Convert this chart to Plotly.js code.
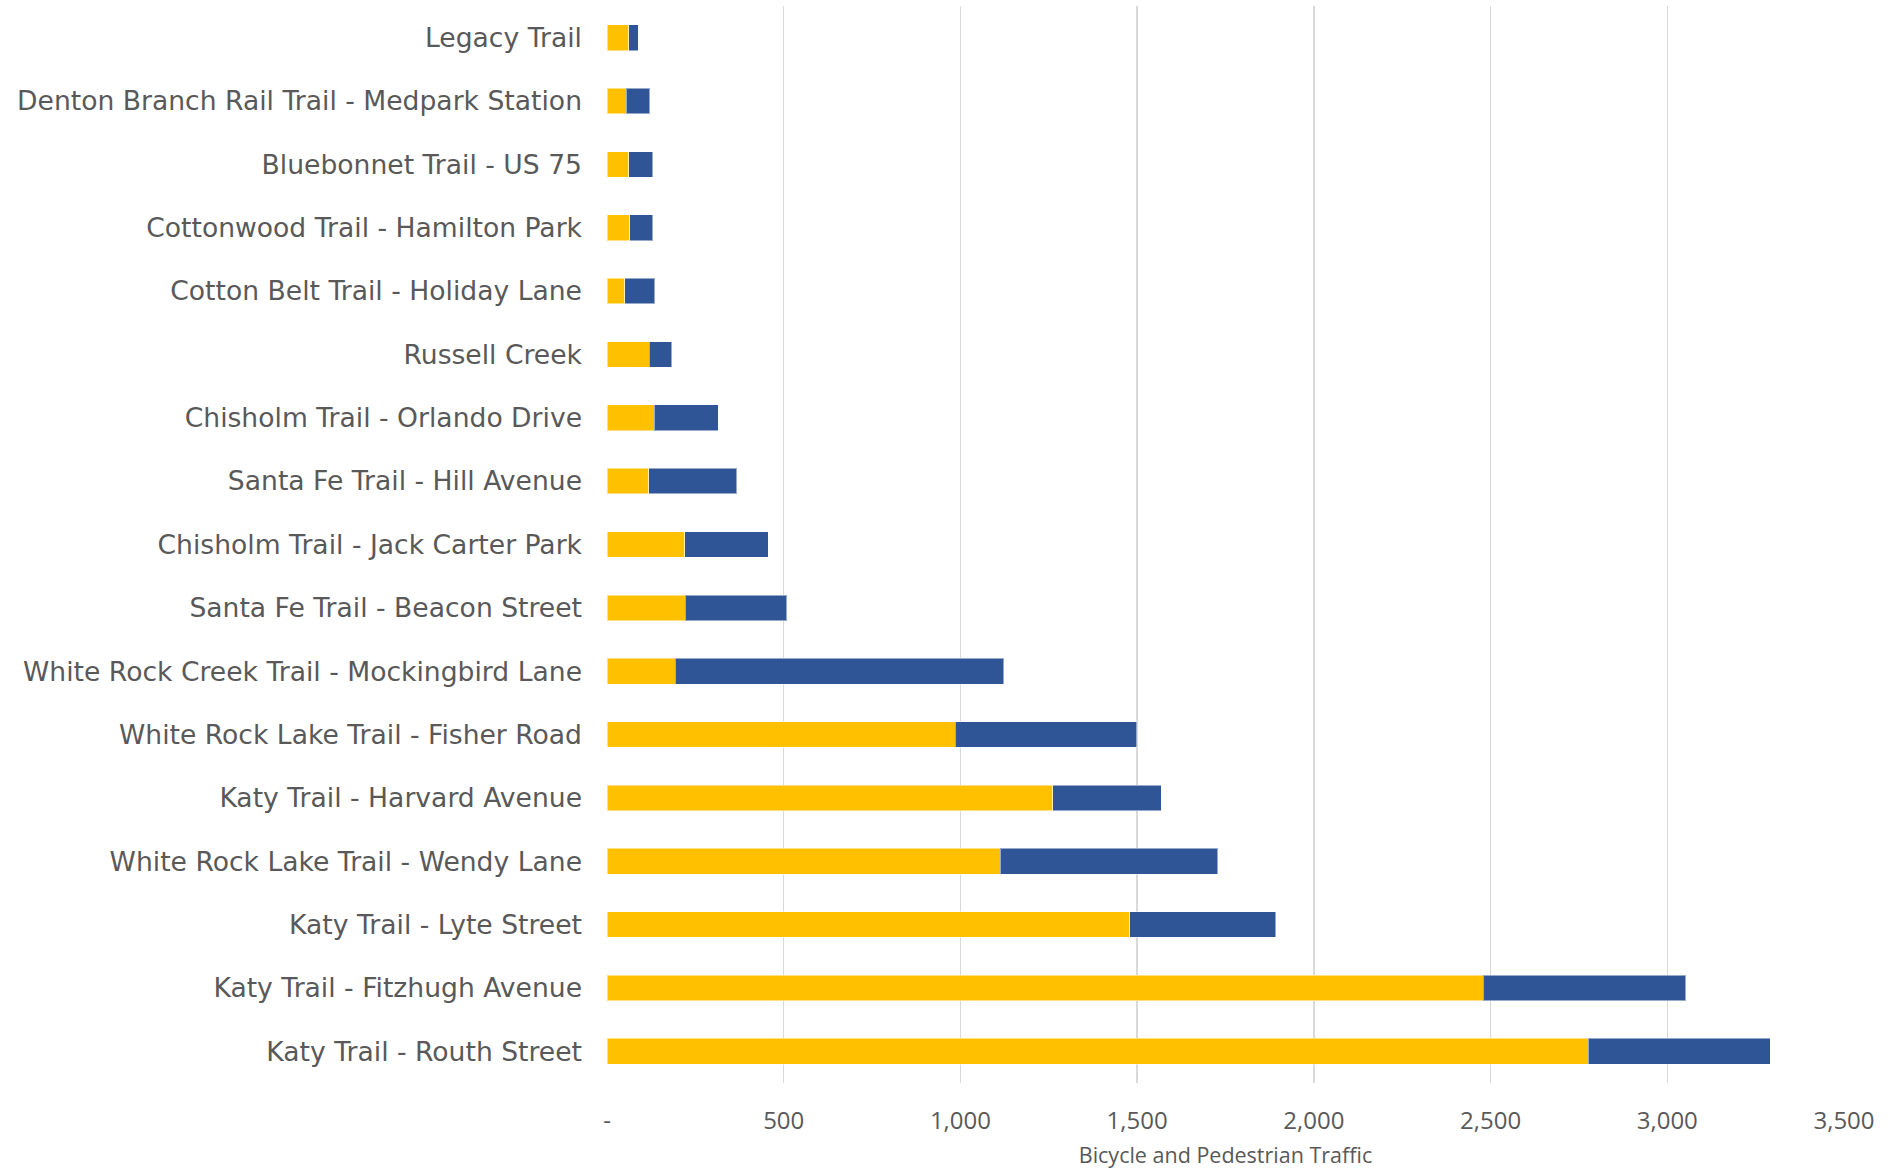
<!DOCTYPE html>
<html>
<head>
<meta charset="utf-8">
<script src="https://cdn.plot.ly/plotly-3.0.1.min.js"></script>
<style>html,body{margin:0;padding:0;background:#fff;}#chart{width:1898px;height:1169px;}</style>
</head>
<body>
<div id="chart"></div>
<script>
const trails = [
  "Legacy Trail",
  "Denton Branch Rail Trail - Medpark Station",
  "Bluebonnet Trail - US 75",
  "Cottonwood Trail - Hamilton Park",
  "Cotton Belt Trail - Holiday Lane",
  "Russell Creek",
  "Chisholm Trail - Orlando Drive",
  "Santa Fe Trail - Hill Avenue",
  "Chisholm Trail - Jack Carter Park",
  "Santa Fe Trail - Beacon Street",
  "White Rock Creek Trail - Mockingbird Lane",
  "White Rock Lake Trail - Fisher Road",
  "Katy Trail - Harvard Avenue",
  "White Rock Lake Trail - Wendy Lane",
  "Katy Trail - Lyte Street",
  "Katy Trail - Fitzhugh Avenue",
  "Katy Trail - Routh Street"
];
const seriesA = [62, 54, 61, 64, 50, 120, 133, 118, 220, 222, 193, 986, 1261, 1113, 1479, 2479, 2777];
const seriesB = [27, 67, 68, 66, 85, 63, 182, 249, 236, 286, 930, 513, 307, 615, 413, 573, 514];
const tickVals = [0, 500, 1000, 1500, 2000, 2500, 3000, 3500];
const tickText = ["-", "500", "1,000", "1,500", "2,000", "2,500", "3,000", "3,500"];
const xTitle = "Bicycle and Pedestrian Traffic";

const labelFont = "DejaVu Sans, sans-serif";
const fontFam = "Open Sans, Lato, sans-serif";
const grey = "#595959";

const traces = [
  {type: "bar", orientation: "h", y: trails, x: seriesA, name: "Series A",
   marker: {color: "#FFC000", line: {color: "rgba(255,255,255,0.5)", width: 1}}},
  {type: "bar", orientation: "h", y: trails, x: seriesB, name: "Series B",
   marker: {color: "#2F5597", line: {color: "rgba(255,255,255,0.5)", width: 1}}}
];

const layout = {
  width: 1898, height: 1169,
  barmode: "stack",
  bargap: 0.595,
  showlegend: false,
  paper_bgcolor: "#fff", plot_bgcolor: "#fff",
  margin: {l: 607, r: 54, t: 6, b: 86},
  font: {family: fontFam, color: grey},
  xaxis: {
    range: [0, 3500],
    tickvals: tickVals, ticktext: tickText,
    showgrid: true, gridcolor: "#D9D9D9", gridwidth: 1.3,
    zeroline: false, showline: false,
    tickfont: {size: 24, color: grey, family: fontFam},
    ticks: "", ticklabelstandoff: 21,
    title: {text: xTitle, font: {size: 21.5, color: grey, family: fontFam}, standoff: 14}
  },
  yaxis: {
    autorange: "reversed",
    type: "category",
    showgrid: false, zeroline: false, showline: false,
    tickfont: {size: 26.6, color: grey, family: labelFont},
    ticks: "", ticklabelstandoff: 24
  }
};

Plotly.newPlot("chart", traces, layout, {displayModeBar: false, staticPlot: true});
</script>
</body>
</html>
